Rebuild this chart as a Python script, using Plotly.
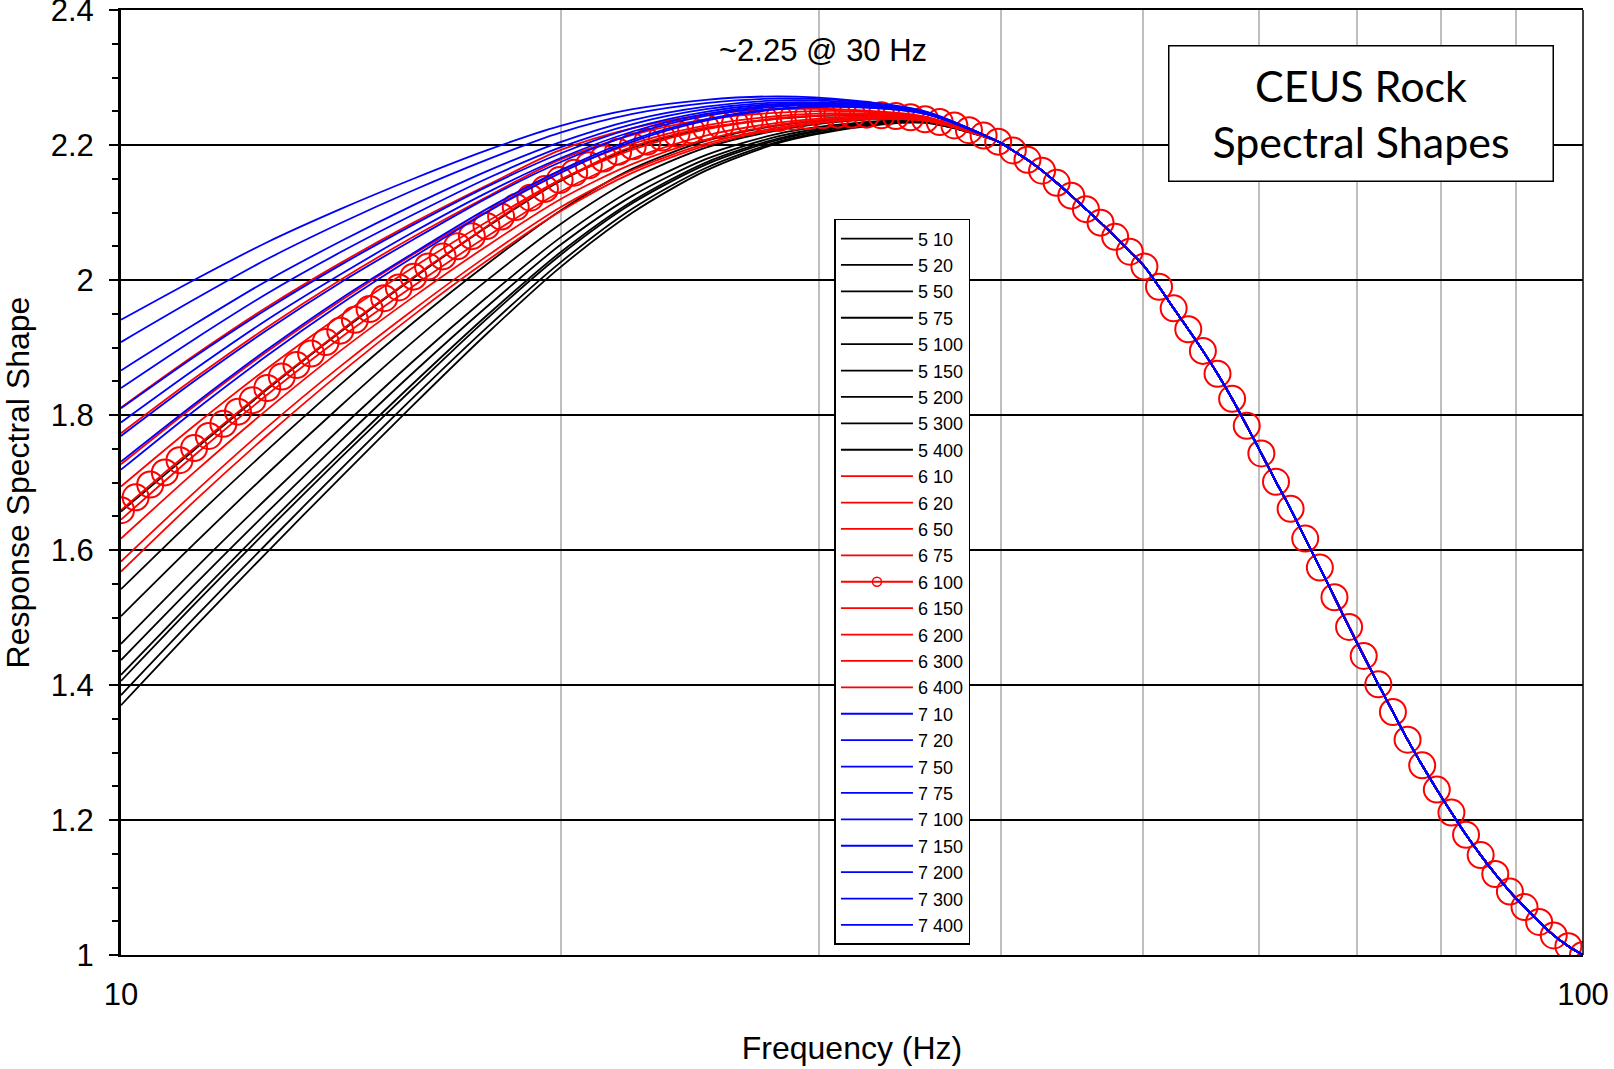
import plotly.graph_objects as go

# Frequencies (Hz) of the sampled points (0.01-decade spacing, 10-100 Hz)
FREQ = [10.000, 10.233, 10.471, 10.715, 10.965, 11.220, 11.482, 11.749, 12.023, 12.303,
        12.589, 12.882, 13.183, 13.490, 13.804, 14.125, 14.454, 14.791, 15.136, 15.488,
        15.849, 16.218, 16.596, 16.982, 17.378, 17.783, 18.197, 18.621, 19.055, 19.498,
        19.953, 20.417, 20.893, 21.380, 21.878, 22.387, 22.909, 23.442, 23.988, 24.547,
        25.119, 25.704, 26.303, 26.915, 27.542, 28.184, 28.840, 29.512, 30.200, 30.903,
        31.623, 32.359, 33.113, 33.884, 34.674, 35.481, 36.308, 37.154, 38.019, 38.905,
        39.811, 40.738, 41.687, 42.658, 43.652, 44.668, 45.709, 46.774, 47.863, 48.978,
        50.119, 51.286, 52.481, 53.703, 54.954, 56.234, 57.544, 58.884, 60.256, 61.660,
        63.096, 64.565, 66.069, 67.608, 69.183, 70.795, 72.444, 74.131, 75.858, 77.625,
        79.433, 81.283, 83.176, 85.114, 87.096, 89.125, 91.201, 93.325, 95.499, 97.724,
        100.000]

# M6, 100 km (plotted with circle markers)
M6_R100 = [1.659, 1.678, 1.697, 1.715, 1.733, 1.751, 1.769, 1.787, 1.805, 1.822,
           1.840, 1.857, 1.874, 1.891, 1.908, 1.925, 1.941, 1.957, 1.973, 1.989,
           2.005, 2.020, 2.035, 2.050, 2.065, 2.080, 2.094, 2.108, 2.122, 2.135,
           2.148, 2.159, 2.170, 2.180, 2.190, 2.198, 2.205, 2.211, 2.217, 2.222,
           2.226, 2.229, 2.232, 2.235, 2.238, 2.240, 2.242, 2.243, 2.244, 2.245,
           2.245, 2.245, 2.244, 2.243, 2.241, 2.238, 2.234, 2.229, 2.222, 2.214,
           2.205, 2.192, 2.178, 2.162, 2.144, 2.125, 2.105, 2.085, 2.064, 2.042,
           2.020, 1.990, 1.958, 1.927, 1.895, 1.861, 1.824, 1.784, 1.743, 1.701,
           1.661, 1.617, 1.574, 1.530, 1.486, 1.443, 1.401, 1.360, 1.319, 1.281,
           1.245, 1.211, 1.178, 1.148, 1.120, 1.094, 1.071, 1.049, 1.029, 1.013,
           1.000]

# Low-frequency part of the other curves; above ~40 Hz all curves coincide
HEAD_FREQ = [10.000, 11.220, 12.589, 14.125, 15.849, 17.783, 19.953, 22.387, 25.119, 28.184, 31.623, 35.481]

M5_R10  = [1.370, 1.485, 1.597, 1.707, 1.815, 1.920, 2.018, 2.100, 2.162, 2.203, 2.225, 2.233]
M5_R20  = [1.385, 1.499, 1.610, 1.719, 1.826, 1.929, 2.025, 2.106, 2.166, 2.205, 2.226, 2.233]
M5_R50  = [1.406, 1.519, 1.629, 1.736, 1.840, 1.942, 2.036, 2.114, 2.171, 2.208, 2.228, 2.234]
M5_R75  = [1.415, 1.527, 1.637, 1.743, 1.847, 1.947, 2.040, 2.117, 2.174, 2.210, 2.229, 2.234]
M5_R100 = [1.437, 1.548, 1.656, 1.761, 1.863, 1.960, 2.051, 2.125, 2.179, 2.213, 2.230, 2.235]
M5_R150 = [1.461, 1.571, 1.677, 1.780, 1.880, 1.974, 2.062, 2.134, 2.185, 2.217, 2.232, 2.236]
M5_R200 = [1.502, 1.609, 1.713, 1.813, 1.909, 1.999, 2.082, 2.150, 2.196, 2.222, 2.236, 2.237]
M5_R300 = [1.542, 1.647, 1.748, 1.845, 1.937, 2.023, 2.102, 2.165, 2.206, 2.229, 2.239, 2.238]
M5_R400 = [1.657, 1.748, 1.838, 1.923, 2.003, 2.078, 2.146, 2.196, 2.224, 2.239, 2.244, 2.237]

M6_R10  = [1.568, 1.672, 1.770, 1.862, 1.948, 2.028, 2.101, 2.159, 2.199, 2.224, 2.237, 2.236]
M6_R20  = [1.583, 1.685, 1.782, 1.872, 1.956, 2.035, 2.107, 2.163, 2.202, 2.226, 2.238, 2.236]
M6_R50  = [1.617, 1.715, 1.808, 1.895, 1.975, 2.050, 2.119, 2.172, 2.208, 2.230, 2.240, 2.237]
M6_R75  = [1.645, 1.740, 1.830, 1.914, 1.991, 2.064, 2.130, 2.180, 2.214, 2.233, 2.242, 2.238]
M6_R150 = [1.694, 1.784, 1.869, 1.947, 2.019, 2.086, 2.148, 2.193, 2.223, 2.239, 2.245, 2.239]
M6_R200 = [1.727, 1.813, 1.894, 1.969, 2.038, 2.101, 2.161, 2.202, 2.229, 2.243, 2.247, 2.240]
M6_R300 = [1.773, 1.854, 1.930, 2.000, 2.064, 2.123, 2.178, 2.215, 2.238, 2.248, 2.250, 2.241]
M6_R400 = [1.811, 1.888, 1.960, 2.025, 2.085, 2.140, 2.192, 2.225, 2.245, 2.253, 2.252, 2.242]

M7_R10  = [1.719, 1.806, 1.888, 1.964, 2.034, 2.100, 2.158, 2.205, 2.236, 2.253, 2.256, 2.246]
M7_R20  = [1.731, 1.816, 1.897, 1.972, 2.040, 2.105, 2.162, 2.208, 2.238, 2.254, 2.257, 2.246]
M7_R50  = [1.769, 1.850, 1.926, 1.996, 2.060, 2.121, 2.174, 2.216, 2.243, 2.257, 2.258, 2.247]
M7_R75  = [1.789, 1.867, 1.941, 2.008, 2.071, 2.129, 2.180, 2.220, 2.246, 2.259, 2.259, 2.247]
M7_R100 = [1.810, 1.886, 1.957, 2.022, 2.082, 2.138, 2.187, 2.225, 2.249, 2.261, 2.260, 2.248]
M7_R150 = [1.840, 1.912, 1.980, 2.041, 2.097, 2.150, 2.196, 2.231, 2.253, 2.263, 2.261, 2.248]
M7_R200 = [1.866, 1.934, 1.999, 2.057, 2.111, 2.161, 2.204, 2.237, 2.257, 2.266, 2.263, 2.249]
M7_R300 = [1.908, 1.971, 2.031, 2.084, 2.133, 2.178, 2.218, 2.246, 2.262, 2.269, 2.265, 2.249]
M7_R400 = [1.941, 2.000, 2.056, 2.105, 2.150, 2.192, 2.228, 2.253, 2.267, 2.272, 2.266, 2.250]

TAIL_START = 60  # index in FREQ from which all curves share the M6_R100 values

YTICKS = [1.0, 1.2, 1.4, 1.6, 1.8, 2.0, 2.2, 2.4]
YTICKTEXT = ["1", "1.2", "1.4", "1.6", "1.8", "2", "2.2", "2.4"]
XTICKS = [10, 20, 30, 40, 50, 60, 70, 80, 90, 100]
XTICKTEXT = ["10", "", "", "", "", "", "", "", "", "100"]

BLACK, RED, BLUE = "#000000", "#FF0000", "#0000FF"

series = [
    ("5 10", BLACK, M5_R10), ("5 20", BLACK, M5_R20), ("5 50", BLACK, M5_R50),
    ("5 75", BLACK, M5_R75), ("5 100", BLACK, M5_R100), ("5 150", BLACK, M5_R150),
    ("5 200", BLACK, M5_R200), ("5 300", BLACK, M5_R300), ("5 400", BLACK, M5_R400),
    ("6 10", RED, M6_R10), ("6 20", RED, M6_R20), ("6 50", RED, M6_R50),
    ("6 75", RED, M6_R75), ("6 100", RED, None), ("6 150", RED, M6_R150),
    ("6 200", RED, M6_R200), ("6 300", RED, M6_R300), ("6 400", RED, M6_R400),
    ("7 10", BLUE, M7_R10), ("7 20", BLUE, M7_R20), ("7 50", BLUE, M7_R50),
    ("7 75", BLUE, M7_R75), ("7 100", BLUE, M7_R100), ("7 150", BLUE, M7_R150),
    ("7 200", BLUE, M7_R200), ("7 300", BLUE, M7_R300), ("7 400", BLUE, M7_R400),
]

FONT = "Liberation Sans, Arial, sans-serif"
LW = 1.8

fig = go.Figure()
for name, color, head in series:
    if head is None:
        fig.add_trace(go.Scatter(
            x=FREQ, y=M6_R100, mode="lines+markers", name=name, showlegend=False,
            line=dict(color=color, width=LW),
            marker=dict(symbol="circle-open", size=26, color=color, line=dict(width=2, color=color)),
            legendgroup=name))
        fig.add_trace(go.Scatter(
            x=[None], y=[None], mode="lines+markers", name=name,
            line=dict(color=color, width=LW),
            marker=dict(symbol="circle-open", size=9, color=color, line=dict(width=1.5, color=color)),
            legendgroup=name))
    else:
        xs = HEAD_FREQ + FREQ[TAIL_START:]
        ys = head + M6_R100[TAIL_START:]
        fig.add_trace(go.Scatter(
            x=xs, y=ys, mode="lines", name=name,
            line=dict(color=color, width=LW, shape="spline", smoothing=0.8)))

fig.update_layout(
    width=1614, height=1069,
    margin=dict(l=121, r=31, t=10, b=114),
    paper_bgcolor="white", plot_bgcolor="white",
    font=dict(family=FONT, color="black"),
    legend=dict(
        x=0.488, y=0.779, xanchor="left", yanchor="top",
        bgcolor="white", bordercolor="black", borderwidth=1.5,
        font=dict(family=FONT, size=18, color="black"),
        tracegroupgap=0, itemwidth=72,
    ),
    xaxis=dict(
        type="log", range=[1, 2], automargin=False,
        tickvals=XTICKS, ticktext=XTICKTEXT,
        showgrid=True, gridcolor="#BFBFBF", gridwidth=2,
        showline=True, linecolor="black", linewidth=1.5, mirror=True,
        ticks="", tickfont=dict(family=FONT, size=31),
        ticklabelstandoff=11, ticklabeloverflow="allow",
        title=dict(text="Frequency (Hz)", font=dict(family=FONT, size=32), standoff=26),
        zeroline=False,
    ),
    yaxis=dict(
        range=[1, 2.4], automargin=False,
        tickvals=YTICKS, ticktext=YTICKTEXT,
        showgrid=True, gridcolor="black", gridwidth=1.5,
        showline=True, linecolor="black", linewidth=3,
        ticks="outside", ticklen=9, tickwidth=1.5, tickcolor="black",
        minor=dict(dtick=0.05, tick0=1, ticks="outside", ticklen=6, tickwidth=1.5,
                   tickcolor="black", showgrid=False),
        tickfont=dict(family=FONT, size=31),
        ticklabelstandoff=9, ticklabeloverflow="allow",
        title=dict(text="Response Spectral Shape", font=dict(family=FONT, size=32), standoff=18),
        zeroline=False,
    ),
    shapes=[dict(type="line", xref="paper", yref="paper", x0=1, x1=1, y0=0, y1=1,
                 line=dict(color="black", width=1.5))],
    annotations=[
        dict(text="~2.25 @ 30 Hz", xref="paper", yref="paper", x=0.480, y=0.957,
             xanchor="center", yanchor="middle",
             showarrow=False, font=dict(family=FONT, size=31, color="black")),
        dict(text="CEUS Rock<br>Spectral Shapes", xref="paper", yref="paper", x=0.848, y=0.890,
             xanchor="center", yanchor="middle",
             showarrow=False, font=dict(family="Lato, Open Sans, sans-serif", size=43, color="black"),
             bgcolor="white", bordercolor="black", borderwidth=1.5, borderpad=4,
             width=375, height=126),
    ],
)

fig.write_html("out.html", config={"displayModeBar": False},
               post_script="document.body.style.margin='0px';")
